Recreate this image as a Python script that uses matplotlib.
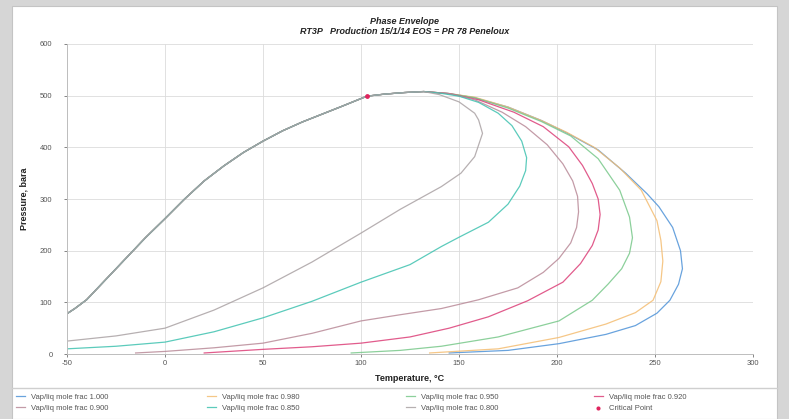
import matplotlib
matplotlib.use('Agg')
import matplotlib.pyplot as plt
from matplotlib.patches import Rectangle
from matplotlib.lines import Line2D

plt.rcParams['font.family'] = ['Liberation Sans Narrow', 'Liberation Sans', 'DejaVu Sans']
plt.rcParams['axes.unicode_minus'] = False

# ==================== data ====================
# bubble-point side, shared by every curve (T degC, P bara), low end -> critical point
BUBBLE_T = [-50, -46, -40, -30, -20, -10, 0, 10, 20, 30, 40, 50, 60, 70, 80, 90, 103]
BUBBLE_P = [78, 88, 105, 145, 185, 225, 262, 300, 335, 364, 390, 412, 432, 449, 464, 479, 499]

# critical point -> cricondenbar
TOP_T = [103, 112, 122, 132]
TOP_P = [499, 503, 506, 508]

CRIT_T = [103]
CRIT_P = [499]

# dew side of each quality line, from the top down to the low-pressure end
FRAC_100_T = [145, 158, 175, 192, 205, 221, 235, 246, 252, 259, 263, 264, 262, 257.6, 251, 240, 225, 201, 175, 145]
FRAC_100_P = [504, 496, 478, 452, 428, 395, 350, 310, 285, 245, 200, 165, 135, 104, 79, 55, 38, 20, 7, 2]

FRAC_098_T = [145, 158, 175, 192, 205, 219, 232, 243, 251, 253, 254, 253, 249, 240, 225, 201, 170, 135]
FRAC_098_P = [504, 497, 478, 452, 429, 400, 360, 317, 258, 220, 180, 140, 104, 80, 58, 32, 10, 2]

FRAC_095_T = [145, 158, 175, 192, 207, 221, 232, 237, 238.5, 237, 233, 226, 218, 201, 170, 141, 120, 95]
FRAC_095_P = [504, 496, 476, 450, 422, 378, 317, 265, 225, 195, 165, 135, 104, 64, 33, 15, 7, 2]

FRAC_092_T = [145, 160, 178, 193, 206, 213, 218, 221, 222, 221, 218, 212, 203, 185, 165, 145, 125, 100, 75, 50, 20]
FRAC_092_P = [504, 492, 468, 440, 401, 365, 330, 300, 270, 240, 210, 175, 139, 103, 72, 50, 33, 21, 14, 9, 2]

FRAC_090_T = [145, 158, 172, 184, 195, 203, 208, 210.5, 211, 210, 207, 201, 193, 180, 160, 141, 120, 100, 75, 50, 25, 0, -15]
FRAC_090_P = [504, 492, 468, 440, 405, 368, 335, 305, 275, 245, 215, 185, 158, 128, 105, 88, 76, 64, 40, 21, 12, 5, 2]

FRAC_085_T = [140, 150, 160, 170, 177, 182, 184.5, 184, 181, 175, 165, 150, 141, 125, 100, 75, 50, 25, 0, -25, -50]
FRAC_085_P = [505, 499, 487, 466, 442, 412, 380, 355, 325, 290, 255, 226, 208, 173, 139, 102, 70, 43, 23, 15, 10]

FRAC_080_T = [140, 150, 158, 160, 162, 158, 151, 141, 120, 100, 75, 50, 25, 0, -25, -50]
FRAC_080_P = [502, 488, 466, 453, 427, 382, 350, 324, 280, 234, 178, 128, 85, 50, 35, 25]

CURVES = [
    ('Vap/liq mole frac 1.000', FRAC_100_T, FRAC_100_P, '#4f93d8'),
    ('Vap/liq mole frac 0.980', FRAC_098_T, FRAC_098_P, '#f4bd72'),
    ('Vap/liq mole frac 0.950', FRAC_095_T, FRAC_095_P, '#78c88a'),
    ('Vap/liq mole frac 0.920', FRAC_092_T, FRAC_092_P, '#dc3f78'),
    ('Vap/liq mole frac 0.900', FRAC_090_T, FRAC_090_P, '#b98a98'),
    ('Vap/liq mole frac 0.850', FRAC_085_T, FRAC_085_P, '#3fc2b0'),
    ('Vap/liq mole frac 0.800', FRAC_080_T, FRAC_080_P, '#aaa2a4'),
]

X_TICKS = [-50, 0, 50, 100, 150, 200, 250, 300]
Y_TICKS = [0, 100, 200, 300, 400, 500, 600]

TITLE = 'Phase Envelope'
SUBTITLE = 'RT3P   Production 15/1/14 EOS = PR 78 Peneloux'

# ==================== figure ====================
W, H = 789, 419
fig = plt.figure(figsize=(W / 100, H / 100), dpi=100)
fig.patch.set_facecolor('#d6d6d6')
fig.add_artist(Rectangle((12 / W, 0), (777 - 12) / W, (H - 6) / H,
                         transform=fig.transFigure, facecolor='white',
                         edgecolor='#c4c4c4', linewidth=0.8, zorder=-10))
# separator above the legend
fig.add_artist(Line2D([12 / W, 777 / W], [1 - 388 / H, 1 - 388 / H],
                      transform=fig.transFigure, color='#cfcfcf', linewidth=1.0, zorder=-5))

ax = fig.add_axes([67 / W, 1 - 354 / H, (753 - 67) / W, (354 - 44) / H])
ax.set_facecolor('none')

handles = {}
for label, t, p, color in CURVES:
    xs = BUBBLE_T + TOP_T + t
    ys = BUBBLE_P + TOP_P + p
    line, = ax.plot(xs, ys, color=color, linewidth=0.9, alpha=0.85, label=label)
    handles[label] = line

crit = ax.scatter(CRIT_T, CRIT_P, s=6, color='#e0245e', zorder=5, label='Critical Point')

ax.set_xlim(-50, 300)
ax.set_ylim(0, 600)
ax.set_xticks(X_TICKS)
ax.set_yticks(Y_TICKS)
ax.grid(color='#dcdcdc', linewidth=0.6)
ax.set_axisbelow(True)
for side in ['top', 'right']:
    ax.spines[side].set_visible(False)
for side in ['left', 'bottom']:
    ax.spines[side].set_color('#bdbdbd')
    ax.spines[side].set_linewidth(0.7)
ax.tick_params(labelsize=5.5, colors='#555555', length=2.5, width=0.5, pad=2)
ax.tick_params(axis='y', pad=8)

ax.set_xlabel('Temperature, \u00b0C', fontsize=6.5, fontweight='bold', color='#222222')
ax.xaxis.set_label_coords(0.5, -(374 - 354) / 310)
ax.set_ylabel('Pressure, bara', fontsize=6.5, fontweight='bold', color='#222222')
ax.yaxis.set_label_coords(-(67 - 28) / 686, 0.5)

fig.text(405 / W, 1 - 21 / H, TITLE, fontsize=6.5, fontweight='bold', style='italic',
         ha='center', va='center', color='#222222')
fig.text(405 / W, 1 - 32 / H, SUBTITLE, fontsize=6.5, fontweight='bold', style='italic',
         ha='center', va='center', color='#222222')

# legend: four columns of two rows
columns = [
    ['Vap/liq mole frac 1.000', 'Vap/liq mole frac 0.900'],
    ['Vap/liq mole frac 0.980', 'Vap/liq mole frac 0.850'],
    ['Vap/liq mole frac 0.950', 'Vap/liq mole frac 0.800'],
    ['Vap/liq mole frac 0.920', 'Critical Point'],
]
handles['Critical Point'] = crit
col_x = [14, 205, 404, 592]
for x0, labels in zip(col_x, columns):
    fig.legend([handles[l] for l in labels], labels, loc='upper left',
               bbox_to_anchor=(x0 / W, 1 - 392 / H), frameon=False,
               fontsize=5.5, handlelength=1.2, handletextpad=0.8,
               labelspacing=0.45, borderaxespad=0, borderpad=0.2,
               markerscale=0.8, labelcolor='#555555')

fig.savefig('out.png', dpi=100, facecolor=fig.get_facecolor())
